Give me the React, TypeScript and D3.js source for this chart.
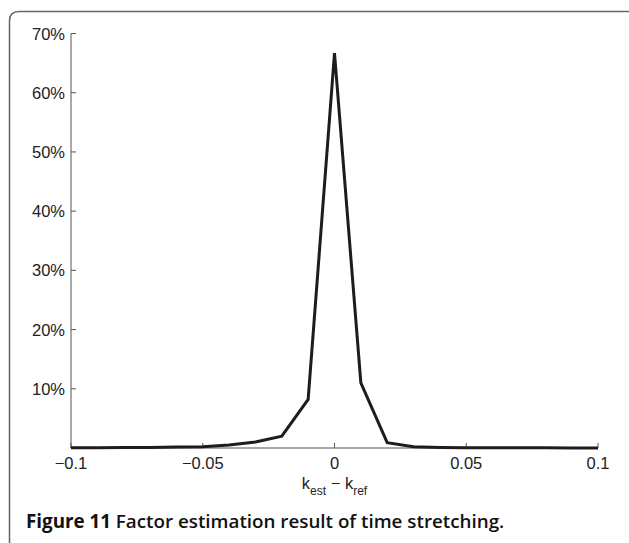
import React, { useEffect, useRef } from 'react';
import * as d3 from 'd3';

// x positions (k_est - k_ref) and share of estimates at each
const offsets = [-0.1, -0.09, -0.08, -0.07, -0.06, -0.05, -0.04, -0.03, -0.02, -0.01, 0,
  0.01, 0.02, 0.03, 0.04, 0.05, 0.06, 0.07, 0.08, 0.09, 0.1];
const shares = [0.0005, 0.0006, 0.0008, 0.001, 0.0015, 0.002, 0.005, 0.01, 0.02, 0.082, 0.667,
  0.11, 0.009, 0.002, 0.0008, 0.0005, 0.0004, 0.0003, 0.0003, 0.0002, 0.0002];
const xTicks = [-0.1, -0.05, 0, 0.05, 0.1];
const xTickLabels = ['\u22120.1', '\u22120.05', '0', '0.05', '0.1'];
const yTicks = [0.1, 0.2, 0.3, 0.4, 0.5, 0.6, 0.7];
const yTickLabels = ['10%', '20%', '30%', '40%', '50%', '60%', '70%'];

const W = 629;
const H = 543;

function drawChart(el: SVGSVGElement) {
  const svg = d3.select(el);
  svg.selectAll('*').remove();

  const font = 'Liberation Sans, Arial, sans-serif';
  const axisColor = '#555';

  // Frame around the figure
  svg.append('path')
    .attr('d', `M9.5,${H} L9.5,21 Q9.5,11.5 19,11.5 L${W},11.5`)
    .attr('fill', 'none')
    .attr('stroke', '#666')
    .attr('stroke-width', 1.5);

  const x = d3.scaleLinear().domain([-0.1, 0.1]).range([71, 598]);
  const y = d3.scaleLinear().domain([0, 0.7]).range([448, 33.5]);

  // Axes (inward ticks)
  svg.append('line')
    .attr('x1', x(-0.1)).attr('x2', x(-0.1))
    .attr('y1', y(0)).attr('y2', y(0.7))
    .attr('stroke', axisColor).attr('stroke-width', 1);
  svg.append('line')
    .attr('x1', x(-0.1)).attr('x2', x(0.1))
    .attr('y1', y(0)).attr('y2', y(0))
    .attr('stroke', axisColor).attr('stroke-width', 1);

  svg.selectAll('.ytick')
    .data(yTicks)
    .enter().append('line')
    .attr('x1', x(-0.1)).attr('x2', x(-0.1) + 5)
    .attr('y1', d => y(d)).attr('y2', d => y(d))
    .attr('stroke', axisColor);

  svg.selectAll('.ylab')
    .data(yTicks)
    .enter().append('text')
    .attr('x', 65)
    .attr('y', d => y(d) + 6)
    .attr('text-anchor', 'end')
    .attr('fill', '#222')
    .style('font-family', font)
    .style('font-size', '16.5px')
    .text((d, i) => yTickLabels[i]);

  svg.selectAll('.xtick')
    .data(xTicks)
    .enter().append('line')
    .attr('x1', d => x(d)).attr('x2', d => x(d))
    .attr('y1', y(0)).attr('y2', y(0) - 5)
    .attr('stroke', axisColor);

  svg.selectAll('.xlab')
    .data(xTicks)
    .enter().append('text')
    .attr('x', d => x(d))
    .attr('y', 469)
    .attr('text-anchor', 'middle')
    .attr('fill', '#222')
    .style('font-family', font)
    .style('font-size', '16.5px')
    .text((d, i) => xTickLabels[i]);

  // x label: k_est − k_ref
  const xl = svg.append('text')
    .attr('x', x(0))
    .attr('y', 489)
    .attr('text-anchor', 'middle')
    .attr('fill', '#222')
    .style('font-family', font)
    .style('font-size', '16.5px');
  xl.append('tspan').text('k');
  xl.append('tspan').attr('dy', 6).style('font-size', '12px').text('est');
  xl.append('tspan').attr('dy', -6).text(' \u2212 k');
  xl.append('tspan').attr('dy', 6).style('font-size', '12px').text('ref');

  // Data line
  const line = d3.line<number>()
    .x((d, i) => x(offsets[i]))
    .y(d => y(d));

  svg.append('path')
    .datum(shares)
    .attr('d', line)
    .attr('fill', 'none')
    .attr('stroke', '#1f1c1d')
    .attr('stroke-width', 3)
    .attr('stroke-linejoin', 'miter');

  // Caption
  const cap = svg.append('text')
    .attr('x', 26)
    .attr('y', 528)
    .attr('fill', '#111')
    .style('font-family', 'Open Sans, sans-serif')
    .style('font-size', '18.8px')
    .style('font-weight', 'bold');
  cap.append('tspan').text('Figure 11');
  cap.append('tspan').style('font-weight', 600).text(' Factor estimation result of time stretching.');
}

const App = () => {
  const ref = useRef<SVGSVGElement>(null);

  useEffect(() => {
    if (ref.current) drawChart(ref.current);
  }, []);

  return (
    <svg
      ref={ref}
      width={W}
      height={H}
      style={{ position: 'absolute', left: 0, top: 0, background: '#fff' }}
    />
  );
};

export default App;
